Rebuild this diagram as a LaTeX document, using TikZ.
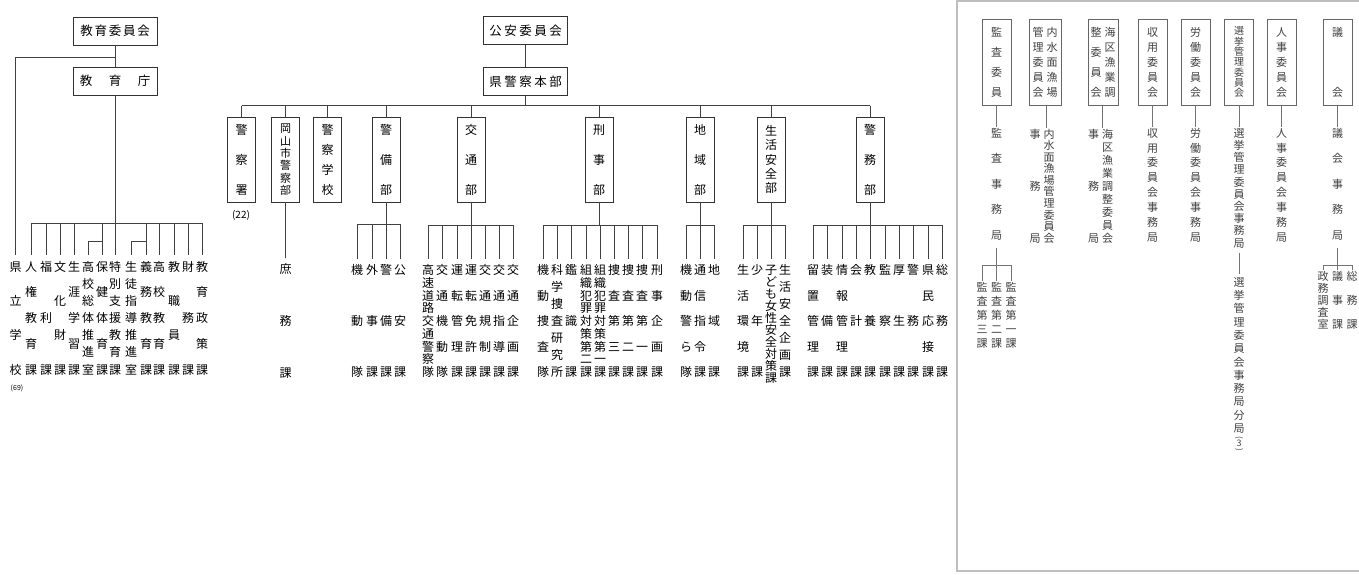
\documentclass[tikz,border=0pt]{standalone}
\usepackage{fontspec}
\usepackage{graphicx}
\setmainfont{Noto Sans CJK JP}

% vertical text: characters spread between first and last centre
\ExplSyntaxOn
\bool_new:N \l__org_first_bool
\cs_new_protected:Npn \org_vtxt:nn #1#2
  {
    \vbox_to_ht:nn { #1 + 0.88em }
      {
        \offinterlineskip
        \bool_set_true:N \l__org_first_bool
        \tl_map_inline:nn {#2}
          {
            \bool_if:NF \l__org_first_bool { \vfill }
            \bool_set_false:N \l__org_first_bool
            \hbox_to_wd:nn { 1em } { \hss \rule[-.12em]{0pt}{1em} ##1 \hss }
          }
      }
  }
\cs_generate_variant:Nn \org_vtxt:nn { no }
\cs_new_protected:Npn \org_htxt:nn #1#2
  {
    \hbox_to_wd:nn { #1 + 1em }
      {
        \bool_set_true:N \l__org_first_bool
        \tl_map_inline:nn {#2}
          {
            \bool_if:NF \l__org_first_bool { \hfill }
            \bool_set_false:N \l__org_first_bool
            ##1
          }
      }
  }
\NewDocumentCommand \vtxt { m m } { \org_vtxt:no {#1} {#2} }
\NewDocumentCommand \htxt { m m } { \org_htxt:nn {#1} {#2} }
\ExplSyntaxOff

% upright "(3)" for vertical text
\NewDocumentCommand\parthree{}{\vbox{\offinterlineskip
  \hbox to 1em{\hss\rotatebox{-90}{\fontsize{8}{8}\selectfont (}\hss}\kern1.5pt
  \hbox to 1em{\hss\fontsize{9}{9}\selectfont 3\hss}\kern1.5pt
  \hbox to 1em{\hss\rotatebox{-90}{\fontsize{8}{8}\selectfont )}\hss}}}

\begin{document}
\begin{tikzpicture}[x=1pt, y=-1pt,
  link/.style={draw=black!75, line width=0.7pt},
  drop/.style={link, shorten >=5pt},
  head/.style={draw=black!80, line width=0.7pt, minimum width=84pt, minimum height=28pt,
               inner sep=0pt, font=\fontsize{12.5}{12.5}\selectfont},
  unit/.style={draw=black!80, line width=0.7pt, minimum width=28pt, minimum height=85pt,
               inner sep=0pt, font=\fontsize{12}{12}\selectfont},
  col/.style={inner sep=0pt, font=\fontsize{12}{12}\selectfont},
  rlink/.style={draw=black!55, line width=0.8pt},
  rbox/.style={draw=black!60, line width=0.8pt, text=black!75, minimum width=29pt,
               minimum height=86pt, inner sep=0pt, font=\fontsize{11}{11}\selectfont},
  rcol/.style={inner sep=0pt, text=black!75, font=\fontsize{11}{11}\selectfont},
  frame/.style={draw=black!25, line width=1.2pt}
]
  \useasboundingbox (0,0) rectangle (1359,574);

  % Board of education
  \node[head] (edboard) at (115,31) {\htxt{57pt}{教育委員会}};
  \node[head] (edoffice) at (115,81) {\htxt{58pt}{教育庁}};
  \draw[link] (edboard) -- (edoffice);
  \coordinate (edleft) at (edboard.south |- 0,57);
  \node[col] (edschool) at (15.5,318) {\vtxt{103pt}{県立学校}};
  \node[inner sep=0pt, font=\fontsize{7}{7}\selectfont] (edcount) at (17,388) {(69)};
  \draw[drop] (edleft) -| (edschool.north);

  \coordinate (edbus) at (edoffice.south |- 0,223);
  \draw[link] (edoffice) -- (edbus);
  \foreach \x/\lbl [count=\i] in {31/人権教育課, 46/福利課, 60/文化財課, 74/生涯学習課,
      102/保健体育課, 115/特別支援教育課, 146/義務教育課, 159/高校教育課, 174/教職員課,
      188/財務課, 202/教育政策課} {
    \node[col] (ed\i) at (\x,318) {\vtxt{103pt}{\lbl}};
    \draw[drop] (ed\i |- edbus) -- (ed\i.north);
  }
  \draw[link] (ed1 |- edbus) -- (ed11 |- edbus);
  \node[col] (edsub1) at (88,318) {\vtxt{103pt}{高校総体推進室}};
  \node[col] (edsub2) at (131,318) {\vtxt{103pt}{生徒指導推進室}};
  \draw[drop] (ed5 |- 0,241) -| (edsub1.north);
  \draw[drop] (ed7 |- 0,241) -| (edsub2.north);

  % Public safety commission and police
  \node[head] (psc) at (525.5,30.5) {\htxt{60pt}{公安委員会}};
  \node[head] (hq) at (525.5,81.5) {\htxt{60pt}{県警察本部}};
  \draw[link] (psc) -- (hq);
  \coordinate (hqbus) at (hq.south |- 0,105.5);
  \draw[link] (hq) -- (hqbus);

  \node[unit] (station) at (241.5,159.5) {\vtxt{60pt}{警察署}};
  \node[unit, font=\fontsize{11}{11}\selectfont] (okayama) at (285.5,159.5) {\vtxt{62pt}{岡山市警察部}};
  \node[unit] (academy) at (327.5,159.5) {\vtxt{60pt}{警察学校}};
  \node[unit] (security) at (386,159.5) {\vtxt{60pt}{警備部}};
  \node[unit] (traffic) at (471,159.5) {\vtxt{60pt}{交通部}};
  \node[unit] (criminal) at (599,159.5) {\vtxt{60pt}{刑事部}};
  \node[unit] (community) at (700,159.5) {\vtxt{60pt}{地域部}};
  \node[unit] (safety) at (771,159.5) {\vtxt{57pt}{生活安全部}};
  \node[unit] (admin) at (870,159.5) {\vtxt{60pt}{警務部}};
  \foreach \n in {station, okayama, academy, security, traffic, criminal, community, safety, admin}
    \draw[link] (\n |- hqbus) -- (\n);
  \draw[link] (station |- hqbus) -- (admin |- hqbus);
  \node[inner sep=0pt, font=\fontsize{10}{10}\selectfont] (stcount) at (241,215) {(22)};

  \node[col] (okgen) at (285.5,321) {\vtxt{104pt}{庶務課}};
  \draw[drop] (okayama) -- (okgen.north);

  \coordinate (secbus) at (security.south |- 0,224);
  \draw[link] (security) -- (secbus);
  \foreach \x/\lbl [count=\i] in {357/機動隊, 372/外事課, 386/警備課, 400/公安課} {
    \node[col] (sec\i) at (\x,321) {\vtxt{102pt}{\lbl}};
    \draw[drop] (sec\i |- secbus) -- (sec\i.north);
  }
  \draw[link] (sec1 |- secbus) -- (sec4 |- secbus);

  \coordinate (trfbus) at (traffic.south |- 0,225);
  \draw[link] (traffic) -- (trfbus);
  \foreach \x/\lbl [count=\i] in {428/高速道路交通警察隊, 442/交通機動隊, 457/運転管理課,
      471/運転免許課, 485/交通規制課, 499/交通指導課, 513/交通企画課} {
    \node[col] (trf\i) at (\x,321) {\vtxt{102pt}{\lbl}};
    \draw[drop] (trf\i |- trfbus) -- (trf\i.north);
  }
  \draw[link] (trf1 |- trfbus) -- (trf7 |- trfbus);

  \coordinate (crmbus) at (criminal.south |- 0,225);
  \draw[link] (criminal) -- (crmbus);
  \foreach \x/\lbl [count=\i] in {543/機動捜査隊, 557/科学捜査研究所, 571/鑑識課,
      586/組織犯罪対策第二課, 600/組織犯罪対策第一課, 614/捜査第三課, 628/捜査第二課,
      642/捜査第一課, 657/刑事企画課} {
    \node[col] (crm\i) at (\x,321) {\vtxt{102pt}{\lbl}};
    \draw[drop] (crm\i |- crmbus) -- (crm\i.north);
  }
  \draw[link] (crm1 |- crmbus) -- (crm9 |- crmbus);

  \coordinate (combus) at (community.south |- 0,225);
  \draw[link] (community) -- (combus);
  \foreach \x/\lbl [count=\i] in {686/機動警ら隊, 700/通信指令課, 714/地域課} {
    \node[col] (com\i) at (\x,321) {\vtxt{102pt}{\lbl}};
    \draw[drop] (com\i |- combus) -- (com\i.north);
  }
  \draw[link] (com1 |- combus) -- (com3 |- combus);

  \coordinate (safbus) at (safety.south |- 0,225);
  \draw[link] (safety) -- (safbus);
  \foreach \x/\lbl [count=\i] in {743/生活環境課, 757/少年課, 771/子ども女性安全対策課,
      785/生活安全企画課} {
    \node[col] (saf\i) at (\x,321) {\vtxt{102pt}{\lbl}};
    \draw[drop] (saf\i |- safbus) -- (saf\i.north);
  }
  \draw[link] (saf1 |- safbus) -- (saf4 |- safbus);

  \coordinate (admbus) at (admin.south |- 0,225);
  \draw[link] (admin) -- (admbus);
  \foreach \x/\lbl [count=\i] in {813/留置管理課, 827/装備課, 842/情報管理課, 856/会計課,
      870/教養課, 885/監察課, 899/厚生課, 913/警務課, 928/県民応接課, 942/総務課} {
    \node[col] (adm\i) at (\x,321) {\vtxt{102pt}{\lbl}};
    \draw[drop] (adm\i |- admbus) -- (adm\i.north);
  }
  \draw[link] (adm1 |- admbus) -- (adm10 |- admbus);

  % Other commissions and the assembly
  \draw[frame] (957,1) rectangle (1370,571);
  \node[rbox] (audit) at (996.5,62) {\vtxt{60pt}{監査委員}};
  \node[rbox, minimum width=32pt] (inland) at (1045,62) {\vtxt{60pt}{管理委員会}\kern3pt\vtxt{60pt}{内水面漁場}};
  \node[rbox, minimum width=30pt] (sea) at (1103,62) {\vtxt{60pt}{整委員会}\kern3pt\vtxt{60pt}{海区漁業調}};
  \node[rbox] (expro) at (1152.5,62) {\vtxt{60pt}{収用委員会}};
  \node[rbox] (labor) at (1195.5,62) {\vtxt{60pt}{労働委員会}};
  \node[rbox, font=\fontsize{10}{10}\selectfont] (election) at (1239,62) {\vtxt{62pt}{選挙管理委員会}};
  \node[rbox] (personnel) at (1281.5,62) {\vtxt{60pt}{人事委員会}};
  \node[rbox] (assembly) at (1337.5,62) {\vtxt{60pt}{議会}};

  \node[rcol] (auditoff) at (996.5,184) {\vtxt{102pt}{監査事務局}};
  \node[rcol] (inlandoff) at (1042,186) {\vtxt{104pt}{事務局}\kern3pt\vtxt{104pt}{内水面漁場管理委員会}};
  \node[rcol] (seaoff) at (1100.5,186) {\vtxt{104pt}{事務局}\kern3pt\vtxt{104pt}{海区漁業調整委員会}};
  \node[rcol] (exprooff) at (1152.5,185) {\vtxt{104pt}{収用委員会事務局}};
  \node[rcol] (laboroff) at (1195.5,185) {\vtxt{104pt}{労働委員会事務局}};
  \node[rcol] (electoff) at (1239,188) {\vtxt{110pt}{選挙管理委員会事務局}};
  \node[rcol] (personoff) at (1281.5,185) {\vtxt{104pt}{人事委員会事務局}};
  \node[rcol] (assemoff) at (1337.5,184) {\vtxt{102pt}{議会事務局}};
  \foreach \b/\o in {audit/auditoff, expro/exprooff, labor/laboroff, election/electoff,
      personnel/personoff, assembly/assemoff}
    \draw[rlink] (\b) -- (\o);
  \draw[rlink] (inland.south -| 1046,0) -- (inlandoff.north -| 1046,0);
  \draw[rlink] (sea.south -| 1102,0) -- (seaoff.north -| 1102,0);

  \node[rcol, anchor=north] (electbr) at (1239,276.5) {\vtxt{162pt}{選挙管理委員会事務局分局\parthree}};
  \draw[rlink, shorten <=4pt, shorten >=3pt] (electoff) -- (electbr);

  \coordinate (auditbus) at (auditoff.south |- 0,265);
  \draw[rlink, shorten <=7pt] (auditoff) -- (auditbus);
  \foreach \x/\lbl [count=\i] in {982/監査第三課, 996.5/監査第二課, 1011/監査第一課} {
    \node[rcol] (aud\i) at (\x,315) {\vtxt{56pt}{\lbl}};
    \draw[rlink] (aud\i |- auditbus) -- (aud\i.north);
  }
  \draw[rlink] (aud1 |- auditbus) -- (aud3 |- auditbus);

  \coordinate (assembus) at (assemoff.south |- 0,265);
  \draw[rlink, shorten <=7pt] (assemoff) -- (assembus);
  \foreach \x/\lbl [count=\i] in {1323/政務調査室, 1337.5/議事課, 1352/総務課} {
    \node[rcol] (asm\i) at (\x,300) {\vtxt{48pt}{\lbl}};
    \draw[rlink] (asm\i |- assembus) -- (asm\i.north);
  }
  \draw[rlink] (asm1 |- assembus) -- (asm3 |- assembus);
\end{tikzpicture}
\end{document}
